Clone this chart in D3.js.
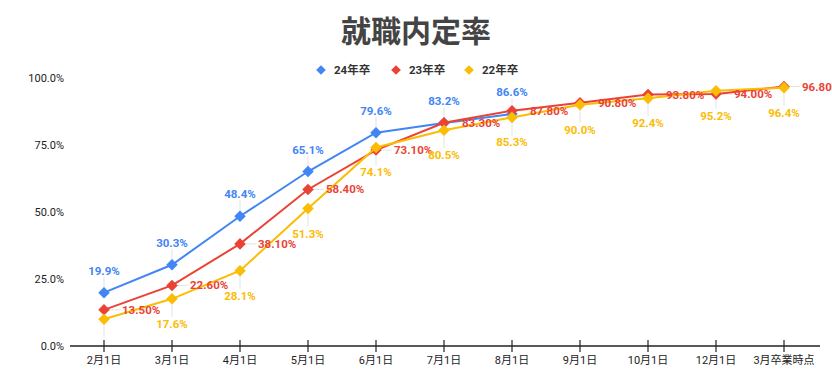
<!DOCTYPE html>
<html><head><meta charset="utf-8">
<script src="https://cdn.jsdelivr.net/npm/d3@7"></script>
<style>
body{margin:0;background:#fff;}
svg{display:block;font-family:Roboto,"Noto Sans CJK JP",sans-serif;}
</style></head>
<body><svg id="c" width="832" height="391"></svg>
<script>
const categories = ["2月1日","3月1日","4月1日","5月1日","6月1日","7月1日","8月1日","9月1日","10月1日","12月1日","3月卒業時点"];
const s24 = [19.9,30.3,48.4,65.1,79.6,83.2,86.6];
const s23 = [13.5,22.6,38.1,58.4,73.1,83.3,87.8,90.8,93.8,94.0,96.8];
const s22 = [10.0,17.6,28.1,51.3,74.1,80.5,85.3,90.0,92.4,95.2,96.4];
const yTicks = [0,25,50,75,100];
const seriesNames = ["24年卒","23年卒","22年卒"];
const colors = ["#4285F4","#EA4335","#FBBC04"];

const svg = d3.select("#c");
const x = d3.scaleBand().domain(categories).range([70,818]);
const y = d3.scaleLinear().domain([0,100]).range([346,78]);
const cx = c => x(c) + x.bandwidth()/2;

// title
svg.append("text").attr("x",416).attr("y",42).attr("text-anchor","middle")
  .attr("font-size",30).attr("font-weight","bold").attr("fill","#444")
  .attr("font-family","'Noto Sans CJK JP',sans-serif").text("就職内定率");

// legend
const legX = [321,396,469];
seriesNames.forEach((n,i)=>{
  svg.append("path").attr("d",d3.symbol(d3.symbolDiamond2,60)())
    .attr("transform",`translate(${legX[i]},70)`).attr("fill",colors[i]);
  svg.append("text").attr("x",legX[i]+13).attr("y",74).attr("font-size",11.5)
    .attr("font-weight","bold").attr("fill","#333").text(n);
});

// y axis labels
const ya = svg.append("g").attr("transform","translate(64,0)")
  .call(d3.axisLeft(y).tickValues(yTicks).tickSize(0).tickPadding(0).tickFormat(d=>d.toFixed(1)+"%"));
ya.select(".domain").remove();
ya.selectAll("text").attr("font-size",11).attr("fill","#222").attr("font-family","Roboto,sans-serif");

// x axis
const xa = svg.append("g").attr("transform","translate(0,346)")
  .call(d3.axisBottom(x).tickSize(0).tickPadding(10));
xa.select(".domain").attr("d","M70,0H820").attr("stroke","#222").attr("stroke-width",1.5);
xa.selectAll(".tick line").attr("y1",-6).attr("y2",6).attr("stroke","#222").attr("stroke-width",1.2);
xa.selectAll(".tick text").attr("font-size",11).attr("fill","#222").attr("font-family","Roboto,'Noto Sans CJK JP',sans-serif");

const allSeries = [s24,s23,s22];
const line = d3.line().x((d,i)=>cx(categories[i])).y(d=>y(d));

// leader lines
const leaders = svg.append("g").attr("stroke","#e3e3e3").attr("stroke-width",1);
allSeries.forEach((s,k)=>{
  s.forEach((v,i)=>{
    const px = cx(categories[i]), py = y(v);
    if(k===0) leaders.append("line").attr("x1",px).attr("x2",px).attr("y1",py).attr("y2",py-16);
    else if(k===1) leaders.append("line").attr("x1",px).attr("x2",px+16).attr("y1",py).attr("y2",py);
    else leaders.append("line").attr("x1",px).attr("x2",px).attr("y1",py).attr("y2",py+18);
  });
});

// lines and markers
allSeries.forEach((s,k)=>{
  svg.append("path").datum(s).attr("d",line).attr("fill","none")
    .attr("stroke",colors[k]).attr("stroke-width",2);
  svg.append("g").selectAll("path").data(s).join("path")
    .attr("d",d3.symbol(d3.symbolDiamond2,85)())
    .attr("transform",(d,i)=>`translate(${cx(categories[i])},${y(d)})`)
    .attr("fill",colors[k]);
});

// labels
const lab = svg.append("g").attr("font-size",11.5).attr("font-weight","bold").attr("font-family","Roboto,sans-serif");
s24.forEach((v,i)=>{
  lab.append("text").attr("x",cx(categories[i])).attr("y",y(v)-18).attr("text-anchor","middle")
    .attr("fill",colors[0]).text(v.toFixed(1)+"%");
});
s23.forEach((v,i)=>{
  lab.append("text").attr("x",cx(categories[i])+18).attr("y",y(v)+4).attr("text-anchor","start")
    .attr("fill",colors[1]).text(v.toFixed(2)+"%");
});
s22.forEach((v,i)=>{
  if(i===0) return;
  lab.append("text").attr("x",cx(categories[i])).attr("y",y(v)+29).attr("text-anchor","middle")
    .attr("fill",colors[2]).text(v.toFixed(1)+"%");
});
</script></body></html>
